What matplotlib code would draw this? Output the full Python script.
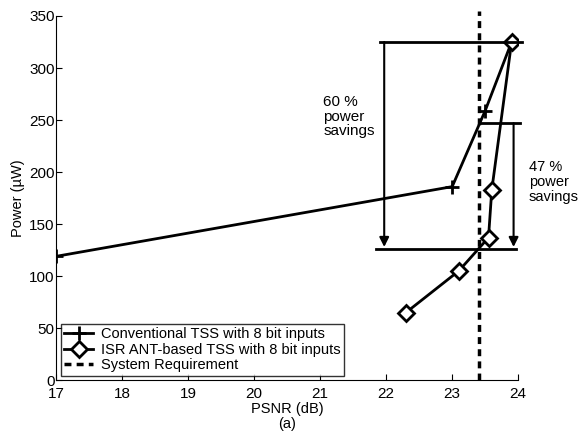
import numpy as np
from matplotlib import pyplot as plt

plt.rcParams['font.family'] = ['Liberation Sans', 'DejaVu Sans']

# data
conv_psnr = [17.0, 23.0, 23.5, 23.9]
conv_power = [119, 186, 259, 325]
isr_psnr = [22.3, 23.1, 23.55, 23.6, 23.9]
isr_power = [65, 105, 137, 183, 325]
requirement = 23.4

xticks = [17, 18, 19, 20, 21, 22, 23, 24]
yticks = [0, 50, 100, 150, 200, 250, 300, 350]

fig = plt.figure(figsize=(5.79, 4.32), dpi=100)
ax = fig.add_axes([0.097, 0.12, 0.798, 0.843])

ax.plot(conv_psnr, conv_power, color='black', lw=2, marker='+', ms=10, mew=2,
        label='Conventional TSS with 8 bit inputs')
ax.plot(isr_psnr, isr_power, color='black', lw=2, marker='D', ms=8, mew=2,
        mfc='white', label='ISR ANT-based TSS with 8 bit inputs')
ax.plot([requirement, requirement], [0, 355], color='black', lw=2.5,
        ls=(0, (2, 1.5)), label='System Requirement', clip_on=False)

# savings annotations
ax.plot([21.9, 24.05], [325, 325], color='black', lw=2, clip_on=False)
ax.plot([21.85, 23.97], [126, 126], color='black', lw=2, clip_on=False)
ax.plot([23.42, 24.02], [247, 247], color='black', lw=2, clip_on=False)
ax.annotate('', xy=(21.97, 128), xytext=(21.97, 325),
            arrowprops=dict(arrowstyle='-|>', color='black', lw=1.5,
                            mutation_scale=14, shrinkA=0, shrinkB=0))
ax.annotate('', xy=(23.93, 128), xytext=(23.93, 247),
            arrowprops=dict(arrowstyle='-|>', color='black', lw=1.5,
                            mutation_scale=14, shrinkA=0, shrinkB=0),
            annotation_clip=False)
ax.text(21.05, 274, '60 %\npower\nsavings', fontsize=11, va='top', ha='left',
        linespacing=1.05)
ax.text(24.16, 212, '47 %\npower\nsavings', fontsize=10.5, va='top', ha='left',
        linespacing=1.1, clip_on=False)

ax.set_xlim(17, 24)
ax.set_ylim(0, 350)
ax.set_xticks(xticks)
ax.set_yticks(yticks)
ax.tick_params(direction='in', labelsize=11, length=4)
ax.tick_params(axis='x', pad=5)
ax.tick_params(axis='y', pad=1)
ax.spines['top'].set_visible(False)
ax.spines['right'].set_visible(False)

ax.set_xlabel('PSNR (dB)\n(a)', fontsize=10.5, labelpad=0.5, linespacing=1.1)
ax.set_ylabel('Power (µW)', fontsize=10.5, labelpad=3)

leg = ax.legend(loc='lower left', fontsize=10.5, frameon=True, fancybox=False,
                edgecolor='black', handlelength=2.0, borderpad=0.25,
                labelspacing=0.1, borderaxespad=0.3, handletextpad=0.5)
leg.get_frame().set_linewidth(1)

fig.savefig('out.png', dpi=100)
